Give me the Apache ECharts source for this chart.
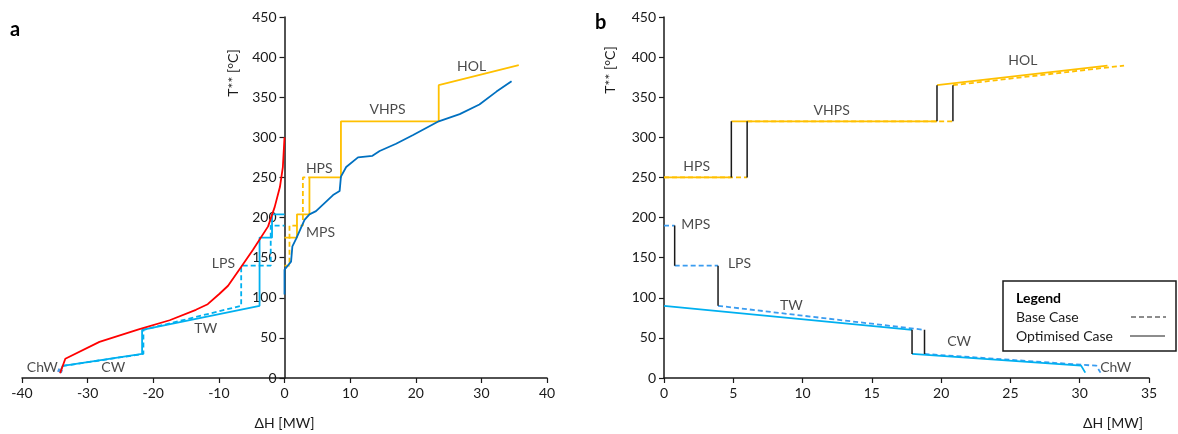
<!DOCTYPE html>
<html>
<head>
<meta charset="utf-8">
<script src="https://cdn.jsdelivr.net/npm/echarts@6/dist/echarts.min.js"></script>
<style>
	html, body { margin: 0; padding: 0; background: #fff; }
	#chart { width: 1178px; height: 434px; }
</style>
</head>
<body>
<div id="chart"></div>
<script>
	// panel a : composite curves (x = ΔH [MW], y = T** [°C])
	const hotComposite = [[-34.2, 6], [-33.4, 24], [-28.2, 45], [-22.1, 61], [-17.5, 72], [-13.5, 85], [-11.7, 92], [-9.9, 105], [-8.6, 115], [-6.9, 135], [-4.8, 160], [-2.5, 189], [-1.5, 213], [-0.7, 238], [-0.25, 263], [0, 300]]
	const coldComposite = [[0, 104], [0, 135], [1.0, 145], [1.2, 164], [1.8, 174], [3.05, 197], [3.8, 204], [4.8, 208], [7.4, 228], [8.4, 233], [8.6, 251], [9.4, 263], [11.2, 275], [13.4, 277], [14.5, 283], [17.0, 292], [19.6, 303], [23.5, 320], [26.7, 329], [29.7, 341], [32.3, 357], [34.6, 370]]
	const hotUtilOptA = [[0, 175], [1.9, 175], [1.9, 204], [3.8, 204], [3.8, 250], [8.6, 250], [8.6, 320], [23.5, 320], [23.5, 365], [35.7, 390]]
	const hotUtilBaseA = [[0, 140], [0.76, 140], [0.76, 190], [2.8, 190], [2.8, 250], [3.8, 250]]
	const coldUtilOptA = [[-34.2, 8], [-33.8, 15], [-21.7, 30], [-21.7, 60], [-3.8, 90], [-3.8, 175], [-1.9, 175], [-1.9, 204], [0, 204]]
	const coldUtilBaseA = [[-33.8, 15], [-21.5, 30], [-21.5, 60], [-6.6, 90], [-6.6, 140], [-2.1, 140], [-2.1, 190], [0, 190]]
	const chwDotA = [[-34.3, 7], [-34.1, 11]]
	const labelsA = [['ChW', -36.9, 12.5], ['CW', -26.1, 12.5], ['TW', -12.0, 62], ['LPS', -9.3, 143], ['MPS', 5.5, 182], ['HPS', 5.3, 261], ['VHPS', 15.7, 335], ['HOL', 28.5, 388]]

	// panel b : utility levels, base case vs optimised case
	const hotOptB = [[[0, 250], [4.86, 250]], [[4.86, 320], [19.7, 320]], [[19.7, 365], [32.0, 389.5]]]
	const hotBaseB = [[[0, 250], [6.0, 250]], [[6.0, 320], [20.85, 320]], [[20.85, 365], [33.2, 389.5]]]
	const coldOptB = [[[0, 90], [17.9, 60]], [[17.9, 30], [30.1, 15.4], [30.4, 6.7]]]
	const coldBaseB = [[[0, 190], [0.77, 190]], [[0.77, 140], [3.9, 140]], [[3.9, 90], [18.8, 60]], [[18.8, 30], [31.2, 15.3], [31.5, 6.7]]]
	const stepsB = [[[0.77, 190], [0.77, 140]], [[3.9, 140], [3.9, 90]], [[4.86, 250], [4.86, 320]], [[6.0, 250], [6.0, 320]], [[19.7, 320], [19.7, 365]], [[20.85, 320], [20.85, 365]], [[17.9, 60], [17.9, 30]], [[18.8, 60], [18.8, 30]]]
	const labelsB = [['HPS', 2.36, 264], ['VHPS', 12.1, 333], ['HOL', 25.9, 396], ['MPS', 2.3, 191], ['LPS', 5.45, 143], ['TW', 9.2, 91], ['CW', 21.3, 45], ['ChW', 32.6, 12.5]]

	const xTicksA = { min: -40, max: 40, interval: 10 }
	const xTicksB = { min: 0, max: 35, interval: 5 }
	const yTicks = { min: 0, max: 450, interval: 50 }

	const YELLOW = '#ffc000'
	const LBLUE = '#00b0f0'
	const DBLUE = '#0070c0'
	const RED = '#ff0000'
	const BASEBLUE = '#3a9cf0'
	const FONT = 'Lato'
	const TXT = '#1a1a1a'

	// left panel: y axis sits at ΔH = 0, halfway across the grid
	const gridA = { left: 22, top: 17, width: 525, height: 361 }
	const gridB = { left: 664, top: 17, width: 485, height: 361 }
	const yOffsetA = -gridA.width * (0 - xTicksA.min) / (xTicksA.max - xTicksA.min)

	function lineSeries (data, idx, color, dashed, width) {
		return {
			type: 'line',
			xAxisIndex: idx,
			yAxisIndex: idx,
			data: data,
			showSymbol: false,
			symbol: 'none',
			silent: true,
			animation: false,
			lineStyle: {
				color: color,
				width: width || 1.8,
				type: dashed ? [5, 3] : 'solid'
			}
		}
	}

	function labelSeries (list, idx) {
		return {
			type: 'scatter',
			xAxisIndex: idx,
			yAxisIndex: idx,
			symbolSize: 0,
			silent: true,
			animation: false,
			data: list.map(l => ({ value: [l[1], l[2]], name: l[0] })),
			label: {
				show: true,
				position: 'inside',
				formatter: '{b}',
				color: TXT,
				fontSize: 14,
				fontFamily: FONT
			}
		}
	}

	function axisStyle () {
		return {
			axisLine: { show: true, onZero: false, lineStyle: { color: '#1a1a1a', width: 1.5 } },
			axisTick: { show: true, length: 5, lineStyle: { color: '#1a1a1a', width: 1.2 } },
			axisLabel: { color: TXT, fontSize: 14, fontFamily: FONT, margin: 8, hideOverlap: false },
			splitLine: { show: false }
		}
	}

	const series = []
	// panel a
	series.push(lineSeries(hotUtilBaseA, 0, YELLOW, true))
	series.push(lineSeries(coldUtilBaseA, 0, LBLUE, true))
	series.push(lineSeries(hotUtilOptA, 0, YELLOW, false))
	series.push(lineSeries(coldUtilOptA, 0, LBLUE, false))
	series.push(lineSeries(chwDotA, 0, '#4a9be8', false, 5))
	series.push(lineSeries(coldComposite, 0, DBLUE, false))
	series.push(lineSeries(hotComposite, 0, RED, false))
	series.push(labelSeries(labelsA, 0))
	// panel b
	hotBaseB.forEach(s => series.push(lineSeries(s, 1, YELLOW, true)))
	coldBaseB.forEach(s => series.push(lineSeries(s, 1, BASEBLUE, true)))
	hotOptB.forEach(s => series.push(lineSeries(s, 1, YELLOW, false)))
	coldOptB.forEach(s => series.push(lineSeries(s, 1, LBLUE, false)))
	stepsB.forEach(s => series.push(lineSeries(s, 1, '#1a1a1a', false, 1.5)))
	series.push(labelSeries(labelsB, 1))

	const myChart = echarts.init(document.getElementById('chart'))
	myChart.setOption({
		backgroundColor: '#fff',
		animation: false,
		grid: [
			Object.assign({ containLabel: false, outerBoundsMode: 'none' }, gridA),
			Object.assign({ containLabel: false, outerBoundsMode: 'none' }, gridB)
		],
		xAxis: [
			Object.assign({ type: 'value', gridIndex: 0, name: 'ΔH [MW]', nameLocation: 'middle', nameGap: 38,
				nameTextStyle: { color: TXT, fontSize: 14, fontFamily: FONT } }, xTicksA, axisStyle()),
			Object.assign({ type: 'value', gridIndex: 1 }, xTicksB, axisStyle())
		],
		yAxis: [
			Object.assign({ type: 'value', gridIndex: 0, position: 'left', offset: yOffsetA }, yTicks, axisStyle()),
			Object.assign({ type: 'value', gridIndex: 1, position: 'left' }, yTicks, axisStyle())
		],
		graphic: [
			{ type: 'text', left: 10, top: 20, style: { text: 'a', font: 'bold 20px ' + FONT, fill: '#000' } },
			{ type: 'text', left: 595, top: 13, style: { text: 'b', font: 'bold 20px ' + FONT, fill: '#000' } },
			{ type: 'text', x: 233, y: 73, rotation: Math.PI / 2, style: { text: 'T** [°C]', font: '14px ' + FONT, fill: TXT, align: 'center', verticalAlign: 'middle' } },
			{ type: 'text', x: 610, y: 70, rotation: Math.PI / 2, style: { text: 'T** [°C]', font: '14px ' + FONT, fill: TXT, align: 'center', verticalAlign: 'middle' } },
			{ type: 'text', x: 1113, y: 423, style: { text: 'ΔH [MW]', font: '14px ' + FONT, fill: TXT, align: 'center', verticalAlign: 'middle' } },
			// legend box
			{ type: 'rect', shape: { x: 1003, y: 281, width: 173, height: 70 }, style: { fill: '#fff', stroke: '#1a1a1a', lineWidth: 1.5 } },
			{ type: 'text', x: 1016, y: 298, style: { text: 'Legend', font: 'bold 14px ' + FONT, fill: '#000', verticalAlign: 'middle' } },
			{ type: 'text', x: 1016, y: 317, style: { text: 'Base Case', font: '14px ' + FONT, fill: TXT, verticalAlign: 'middle' } },
			{ type: 'text', x: 1016, y: 336, style: { text: 'Optimised Case', font: '14px ' + FONT, fill: TXT, verticalAlign: 'middle' } },
			{ type: 'line', shape: { x1: 1131, y1: 317, x2: 1166, y2: 317 }, style: { stroke: '#1a1a1a', lineWidth: 1, lineDash: [5, 3] } },
			{ type: 'line', shape: { x1: 1130, y1: 336, x2: 1165, y2: 336 }, style: { stroke: '#1a1a1a', lineWidth: 1 } }
		],
		series: series
	})
</script>
</body>
</html>
